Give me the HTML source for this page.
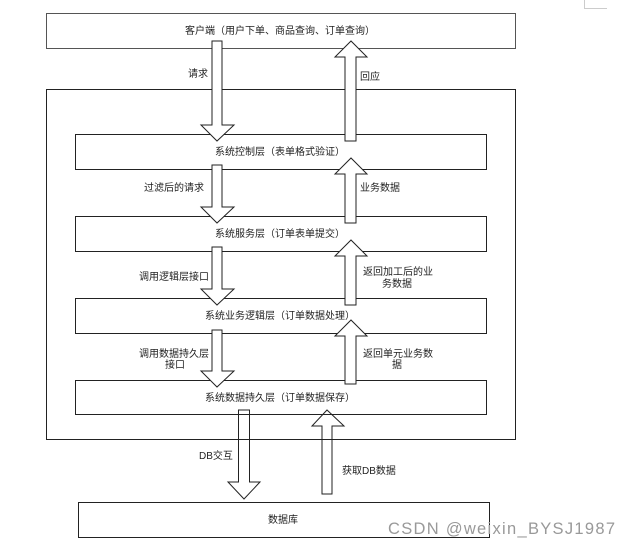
<!DOCTYPE html>
<html><head><meta charset="utf-8"><style>
body{margin:0;background:#fff}
svg text{font-family:"Liberation Sans","Noto Sans CJK SC",sans-serif;font-size:10px;fill:#222}
</style></head><body>
<svg width="627" height="545" viewBox="0 0 627 545" xmlns="http://www.w3.org/2000/svg">
<path d="M584.5 0V8.5H607" fill="none" stroke="#ccc"/>
<g fill="#fff" stroke="#222" stroke-width="1">
<rect x="46.5" y="13.5" width="469" height="35" stroke="#555"/>
<rect x="46.5" y="89.5" width="469" height="350"/>
<rect x="75.5" y="134.5" width="411" height="35"/>
<rect x="75.5" y="216.5" width="411" height="35"/>
<rect x="75.5" y="298.5" width="411" height="35"/>
<rect x="75.5" y="380.5" width="411" height="34"/>
<rect x="78.5" y="502.5" width="411" height="35"/>
</g>
<g fill="#fff" stroke="#222" stroke-width="1">
<path d="M212 41H222V125H234L217 141L201 125H212Z"/>
<path d="M212 165H222V207H234L217 223L201 207H212Z"/>
<path d="M212 247H222V289H234L217 305L201 289H212Z"/>
<path d="M212 330H222V371H234L217 387L201 371H212Z"/>
<path d="M345 141H356V57H367L351 41L335 57H345Z"/>
<path d="M345 223H356V174H367L351 158L335 174H345Z"/>
<path d="M345 305H356V256H367L351 240L335 256H345Z"/>
<path d="M345 384H356V336H367L351 320L335 336H345Z"/>
</g>
<g fill="none" stroke="#222" stroke-width="1">
<path d="M238.5 410H249.5V482H260L244 499L228 482H238.5Z"/>
<path d="M322 494H332V426H344L327 410L312 426H322Z"/>
</g>
<g text-anchor="middle">
<text x="280" y="34">客户端（用户下单、商品查询、订单查询）</text>
<text x="280" y="155">系统控制层（表单格式验证）</text>
<text x="280" y="237">系统服务层（订单表单提交）</text>
<text x="280" y="319">系统业务逻辑层（订单数据处理）</text>
<text x="280" y="401">系统数据持久层（订单数据保存）</text>
<text x="283" y="523">数据库</text>
<text x="397" y="287">务数据</text>
<text x="175" y="368">接口</text>
<text x="397" y="368">据</text>
</g>
<text x="188" y="77">请求</text>
<text x="360" y="80">回应</text>
<text x="144" y="191">过滤后的请求</text>
<text x="360" y="191">业务数据</text>
<text x="139" y="280">调用逻辑层接口</text>
<text x="363" y="275">返回加工后的业</text>
<text x="139" y="357">调用数据持久层</text>
<text x="363" y="357">返回单元业务数</text>
<text x="199" y="459">DB交互</text>
<text x="342" y="474">获取DB数据</text>
<text x="388" y="534" style="font-size:16.5px;fill:#999" textLength="227">CSDN @weixin_BYSJ1987</text>
</svg>
</body></html>
